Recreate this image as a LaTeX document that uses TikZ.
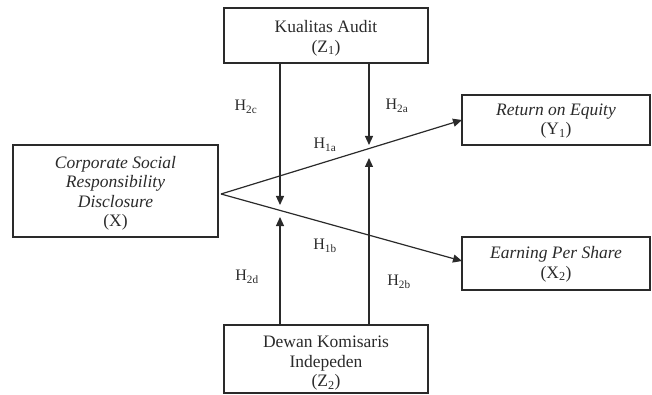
\documentclass[tikz,border=0pt]{standalone}
\usepackage{fontspec}
\setmainfont{Liberation Serif}
\usetikzlibrary{arrows.meta}
\definecolor{ink}{HTML}{2A2A2A}
\newcommand{\tallstrut}[1]{\rule{0pt}{#1}}
\tikzset{
  box/.style={draw=ink, line width=1.2pt, rectangle, align=center, text=ink,
    font=\fontsize{17.5}{19.5}\selectfont, inner sep=0pt},
  conn/.style={draw=ink, line width=1.2pt},
  arr/.style={conn, -{Triangle[length=9pt,width=8pt]}},
  hlab/.style={text=ink, font=\fontsize{16}{19}\selectfont, inner sep=0pt}
}
\begin{document}
\begin{tikzpicture}[x=1pt,y=-1pt]
\useasboundingbox (0,0) rectangle (652,395);
\node[box, minimum width=205pt, minimum height=92pt] (X) at (115.5,191)
  {\tallstrut{17pt}\textit{Corporate Social}\\\textit{Responsibility}\\\textit{Disclosure}\\(X)};
\node[box, minimum width=204pt, minimum height=55pt] (KA) at (326,35.5)
  {\tallstrut{18pt}Kualitas Audit\\(Z\textsubscript{1})};
\node[box, minimum width=204pt, minimum height=68pt] (DK) at (326,359)
  {\tallstrut{20pt}Dewan Komisaris\\Indepeden\\(Z\textsubscript{2})};
\node[box, minimum width=188pt, minimum height=50pt] (ROE) at (556,120)
  {\tallstrut{14pt}\textit{Return on Equity}\\(Y\textsubscript{1})};
\node[box, minimum width=188pt, minimum height=53pt] (EPS) at (556,263.5)
  {\tallstrut{14pt}\textit{Earning Per Share}\\(X\textsubscript{2})};
\coordinate (apex) at (221,194);
\coordinate (roeIn) at (462,120);
\coordinate (epsIn) at (462,261);
\coordinate (t1) at (280,205);
\coordinate (t2) at (369,145);
\coordinate (t3) at (280,217);
\coordinate (t4) at (369,158);
\draw[arr] (apex) -- (roeIn);
\draw[arr] (apex) -- (epsIn);
\draw[arr] (t1 |- KA.south) -- (t1);
\draw[arr] (t2 |- KA.south) -- (t2);
\draw[arr] (t3 |- DK.north) -- (t3);
\draw[arr] (t4 |- DK.north) -- (t4);
\node[hlab] (h2c) at (246,107) {H\textsubscript{2c}};
\node[hlab] (h2a) at (397,106) {H\textsubscript{2a}};
\node[hlab] (h1a) at (325,145) {H\textsubscript{1a}};
\node[hlab] (h1b) at (325,246) {H\textsubscript{1b}};
\node[hlab] (h2d) at (247,277) {H\textsubscript{2d}};
\node[hlab] (h2b) at (399,282) {H\textsubscript{2b}};
\end{tikzpicture}
\end{document}
